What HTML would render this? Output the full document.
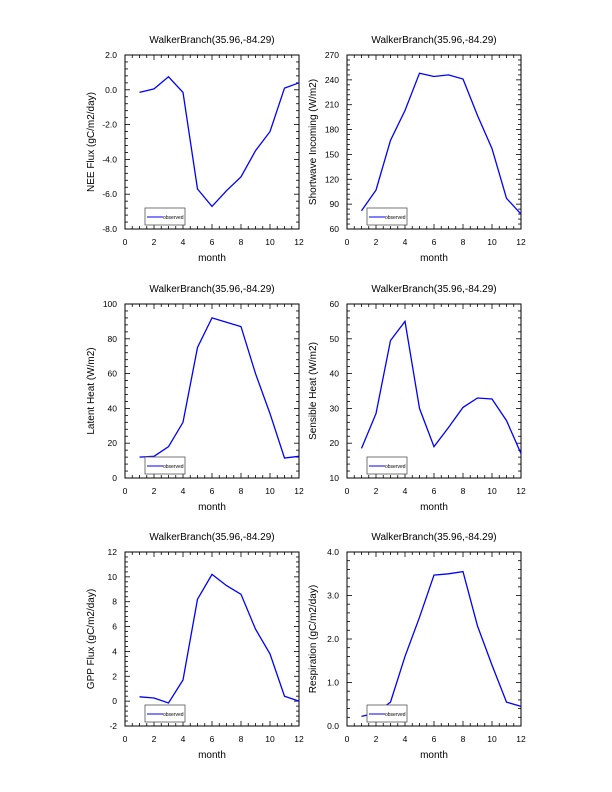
<!DOCTYPE html>
<html><head><meta charset="utf-8"><style>
html,body{margin:0;padding:0;background:#fff}
svg{display:block;font-family:"Liberation Sans",sans-serif}
</style></head><body>
<svg id="c" width="612" height="792" xmlns="http://www.w3.org/2000/svg"></svg>
<script>
const months=[1,2,3,4,5,6,7,8,9,10,11,12];
const neeVals=[-0.15,0.05,0.75,-0.15,-5.7,-6.7,-5.8,-5.0,-3.5,-2.4,0.1,0.4];
const swVals=[82,107,167,203,248,244,246,241,197,157,97,78];
const lhVals=[12,12.5,18,32,75,92,89.5,87,60,37,11.5,12.5];
const shVals=[18.5,28.5,49.5,55,30,19,24.5,30.3,33,32.7,26.5,17];
const gppVals=[0.35,0.25,-0.15,1.7,8.2,10.2,9.3,8.6,5.8,3.8,0.4,0.0];
const resVals=[0.22,0.3,0.55,1.6,2.5,3.47,3.5,3.55,2.3,1.4,0.55,0.45];
const xTicks=[0,2,4,6,8,10,12];
const neeTicks=[-8,-6,-4,-2,0,2];
const swTicks=[60,90,120,150,180,210,240,270];
const lhTicks=[0,20,40,60,80,100];
const shTicks=[10,20,30,40,50,60];
const gppTicks=[-2,0,2,4,6,8,10,12];
const resTicks=[0,1,2,3,4];
const panels=[
 {n:'nee',x:125,y:55,vals:neeVals,ticks:neeTicks,dec:1,lab:'NEE Flux (gC/m2/day)'},
 {n:'shortwave',x:347,y:55,vals:swVals,ticks:swTicks,dec:0,lab:'Shortwave Incoming (W/m2)'},
 {n:'latent-heat',x:125,y:304,vals:lhVals,ticks:lhTicks,dec:0,lab:'Latent Heat (W/m2)'},
 {n:'sensible-heat',x:347,y:304,vals:shVals,ticks:shTicks,dec:0,lab:'Sensible Heat (W/m2)'},
 {n:'gpp',x:125,y:552,vals:gppVals,ticks:gppTicks,dec:0,lab:'GPP Flux (gC/m2/day)'},
 {n:'respiration',x:347,y:552,vals:resVals,ticks:resTicks,dec:1,lab:'Respiration (gC/m2/day)'}];
const W=174,H=174,NS='http://www.w3.org/2000/svg',svg=document.getElementById('c');
function mk(t,a,p,txt){const e=document.createElementNS(NS,t);for(const k in a)e.setAttribute(k,a[k]);if(txt!==undefined)e.textContent=txt;(p||svg).appendChild(e);return e;}
panels.forEach(P=>{
 const g=mk('g',{});
 
 
 const y0=P.ticks[0],y1=P.ticks[P.ticks.length-1];
 const sx=v=>P.x+v/12*W, sy=v=>P.y+H-(v-y0)/(y1-y0)*H;
 const t=mk('text',{x:P.x+W/2,y:P.y-12,'text-anchor':'middle','font-size':'10'},g,'WalkerBranch(35.96,-84.29)');
 
 
 for(let v=0;v<=12;v+=0.5){const X=sx(v),L=(v%2===0)?5:3;
  mk('line',{x1:X,x2:X,y1:P.y+H,y2:P.y+H-L,stroke:'#000','stroke-width':0.8},g);
  mk('line',{x1:X,x2:X,y1:P.y,y2:P.y+L,stroke:'#000','stroke-width':0.8},g);}
 xTicks.forEach(v=>{const l=mk('text',{x:sx(v),y:P.y+H+16,'text-anchor':'middle','font-size':'8.5'},g,String(v));
  
  });
 const step=P.ticks[1]-P.ticks[0];
 for(let i=0;i<P.ticks.length;i++){
  for(let k=0;k<5;k++){const v=P.ticks[i]+k*step/5;if(v>y1+1e-9)break;const Y=sy(v),L=k===0?5:3;
   mk('line',{x1:P.x,x2:P.x+L,y1:Y,y2:Y,stroke:'#000','stroke-width':0.8},g);
   mk('line',{x1:P.x+W,x2:P.x+W-L,y1:Y,y2:Y,stroke:'#000','stroke-width':0.8},g);}
  const l=mk('text',{x:P.x-8,y:sy(P.ticks[i])+3,'text-anchor':'end','font-size':'8.5'},g,P.ticks[i].toFixed(P.dec));
  
  }
 mk('rect',{x:P.x,y:P.y,width:W,height:H,fill:'none',stroke:'#000','stroke-width':1},g);
 const xl=mk('text',{x:P.x+W/2,y:P.y+H+32,'text-anchor':'middle','font-size':'10'},g,'month');
 
 
 const yl=mk('text',{x:0,y:0,'text-anchor':'middle','font-size':'10',transform:`translate(${P.x-31},${P.y+H/2}) rotate(-90)`},g,P.lab);
 
 
 const pts=P.vals.map((v,i)=>sx(months[i]).toFixed(1)+','+sy(v).toFixed(1)).join(' ');
 const ln=mk('polyline',{points:pts,fill:'none',stroke:'#0000ff','stroke-width':1.3},g);
 
 
 const lg=mk('g',{},g);
 
 
 mk('rect',{x:P.x+20,y:P.y+H-21,width:40,height:17,fill:'#fff',stroke:'#555','stroke-width':0.8},lg);
 mk('line',{x1:P.x+22,x2:P.x+38,y1:P.y+H-12,y2:P.y+H-12,stroke:'#0000ff','stroke-width':1},lg);
 mk('text',{x:P.x+38,y:P.y+H-10,'font-size':'5'},lg,'observed');
});
</script>
</body></html>
